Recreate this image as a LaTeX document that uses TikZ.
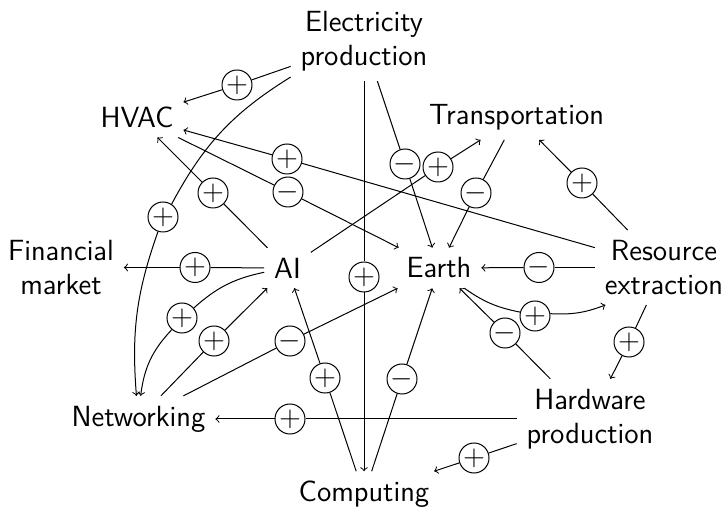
\documentclass[tikz,border=0pt]{standalone}
\usepackage{fontspec}
\begin{document}
\begin{tikzpicture}[x=0.5pt,y=-0.5pt,line width=0.5pt,
  lbl/.style={font=\fontsize{14.6}{17.2}\selectfont\sffamily, inner sep=4.75pt, align=center},
  sgn/.style={circle, draw, minimum size=15pt, inner sep=0pt, font=\fontsize{14.3}{14.3}\selectfont},
  arr/.style={->}]
\useasboundingbox (0,0) rectangle (728,507);
% concept nodes
\node[lbl] (elec)  at (364,41)    {Electricity\\production};
\node[lbl] (hvac)  at (137,117)   {HVAC};
\node[lbl] (trans) at (516.5,117) {Transportation};
\node[lbl] (fin)   at (61,267.5)  {Financial\\market};
\node[lbl] (ai)    at (287.5,268) {AI};
\node[lbl] (earth) at (439,268)   {Earth};
\node[lbl] (res)   at (664,267.5) {Resource\\extraction};
\node[lbl] (net)   at (138.5,419) {Networking};
\node[lbl] (hw)    at (590,419)   {Hardware\\production};
\node[lbl] (comp)  at (364,494.5) {Computing};
% sign nodes
\node[sgn] (s1)  at (237,85)    {$+$};
\node[sgn] (s2)  at (163,217)   {$+$};
\node[sgn] (s3)  at (364,277)   {$+$};
\node[sgn] (s4)  at (405,164)   {$-$};
\node[sgn] (s5)  at (438,167)   {$+$};
\node[sgn] (s6)  at (476,193)   {$-$};
\node[sgn] (s7)  at (582,183)   {$+$};
\node[sgn] (s8)  at (287,159)   {$+$};
\node[sgn] (s9)  at (213,193)   {$+$};
\node[sgn] (s10) at (288,192)   {$-$};
\node[sgn] (s11) at (195,267.5) {$+$};
\node[sgn] (s12) at (182,318)   {$+$};
\node[sgn] (s13) at (214,341)   {$+$};
\node[sgn] (s14) at (290,341)   {$-$};
\node[sgn] (s15) at (325,378)   {$+$};
\node[sgn] (s16) at (402,379)   {$-$};
\node[sgn] (s17) at (290,419)   {$+$};
\node[sgn] (s18) at (474,458)   {$+$};
\node[sgn] (s19) at (505,333)   {$-$};
\node[sgn] (s20) at (539,267.5) {$-$};
\node[sgn] (s21) at (535,316)   {$+$};
\node[sgn] (s22) at (629,342)   {$+$};
% edges
\draw (elec) -- (s1);  \draw[arr] (s1) -- (hvac);
\draw (elec) to[bend right=15] (s2); \draw[arr] (s2) to[bend right=12] (net);
\draw (elec) -- (s3);  \draw[arr] (s3) -- (comp);
\draw (elec) -- (s4);  \draw[arr] (s4) -- (earth);
\draw (ai) -- (s5);    \draw[arr] (s5) -- (trans);
\draw (trans) -- (s6); \draw[arr] (s6) -- (earth);
\draw (res) -- (s7);   \draw[arr] (s7) -- (trans);
\draw (res) -- (s8);   \draw[arr] (s8) -- (hvac);
\draw (ai) -- (s9);    \draw[arr] (s9) -- (hvac);
\draw (hvac) -- (s10); \draw[arr] (s10) -- (earth);
\draw (ai) -- (s11);   \draw[arr] (s11) -- (fin);
\draw (ai) to[bend right=15] (s12); \draw[arr] (s12) to[bend right=18] (net);
\draw (net) -- (s13);  \draw[arr] (s13) -- (ai);
\draw (net) -- (s14);  \draw[arr] (s14) -- (earth);
\draw (comp) -- (s15); \draw[arr] (s15) -- (ai);
\draw (comp) -- (s16); \draw[arr] (s16) -- (earth);
\draw (hw) -- (s17);   \draw[arr] (s17) -- (net);
\draw (hw) -- (s18);   \draw[arr] (s18) -- (comp);
\draw (hw) -- (s19);   \draw[arr] (s19) -- (earth);
\draw (res) -- (s20);  \draw[arr] (s20) -- (earth);
\draw (earth) to[bend right=12] (s21); \draw[arr] (s21) to[bend right=12] (res);
\draw (res) -- (s22);  \draw[arr] (s22) -- (hw);
\end{tikzpicture}
\end{document}
